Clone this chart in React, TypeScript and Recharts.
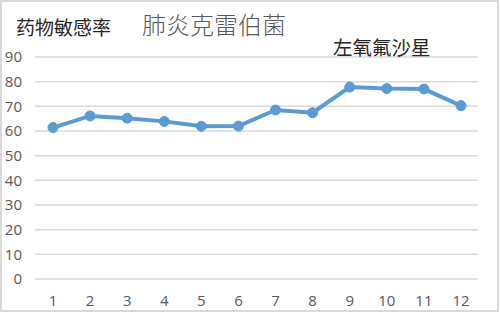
// 肺炎克雷伯菌 — 左氧氟沙星 药物敏感率 line chart
import React from "react";
import { LineChart, Line, XAxis, YAxis, CartesianGrid } from "recharts";

const months = ["1", "2", "3", "4", "5", "6", "7", "8", "9", "10", "11", "12"];
const rates = [61.4, 66.1, 65.2, 63.9, 61.9, 62.0, 68.5, 67.4, 77.8, 77.2, 77.0, 70.3];
const yTicks = [0, 10, 20, 30, 40, 50, 60, 70, 80, 90];

const chartTitle = "肺炎克雷伯菌";
const yTitle = "药物敏感率";
const seriesName = "左氧氟沙星";

const data = months.map((m, i) => ({ month: m, rate: rates[i] }));

const cjk = '"Noto Sans CJK SC", "Noto Sans", sans-serif';
const tickFont = { fontSize: 15, fill: "#595959", fontFamily: '"Open Sans", "Liberation Sans", sans-serif' };

export default function App() {
  return (
    <div style={{ position: "absolute", left: 0, top: 0, width: 500, height: 313, background: "#fff" }}>
      <LineChart width={500} height={313} data={data} margin={{ top: 57, right: 22, left: 0, bottom: 4 }}>
        <CartesianGrid vertical={false} stroke="#d9d9d9" strokeWidth={1.5} />
        <XAxis
          dataKey="month"
          height={30}
          axisLine={false}
          tickLine={false}
          tickMargin={10}
          tick={tickFont}
          padding={{ left: 18, right: 17 }}
        />
        <YAxis
          width={35}
          domain={[0, 90]}
          ticks={yTicks}
          axisLine={false}
          tickLine={false}
          tickMargin={7}
          tick={tickFont}
        />
        <Line
          dataKey="rate"
          stroke="#5b9bd5"
          strokeWidth={4}
          dot={{ r: 5, fill: "#5b9bd5", stroke: "#5b9bd5", strokeWidth: 1 }}
          isAnimationActive={false}
        />
      </LineChart>
      <div style={{ position: "absolute", left: 16, top: 17, fontSize: 19, lineHeight: "19px", color: "#262626", fontFamily: cjk, whiteSpace: "nowrap" }}>
        {yTitle}
      </div>
      <div style={{ position: "absolute", left: 142, top: 12, fontSize: 24, lineHeight: "24px", color: "#595959", fontFamily: cjk, fontWeight: 300, whiteSpace: "nowrap" }}>
        {chartTitle}
      </div>
      <div style={{ position: "absolute", left: 333, top: 37, fontSize: 19.5, lineHeight: "19.5px", color: "#262626", fontFamily: cjk, whiteSpace: "nowrap" }}>
        {seriesName}
      </div>
      <div style={{ position: "absolute", left: 0, top: 0, width: 499, height: 312, boxSizing: "border-box", border: "2px solid #d9d9d9", pointerEvents: "none" }} />
    </div>
  );
}
